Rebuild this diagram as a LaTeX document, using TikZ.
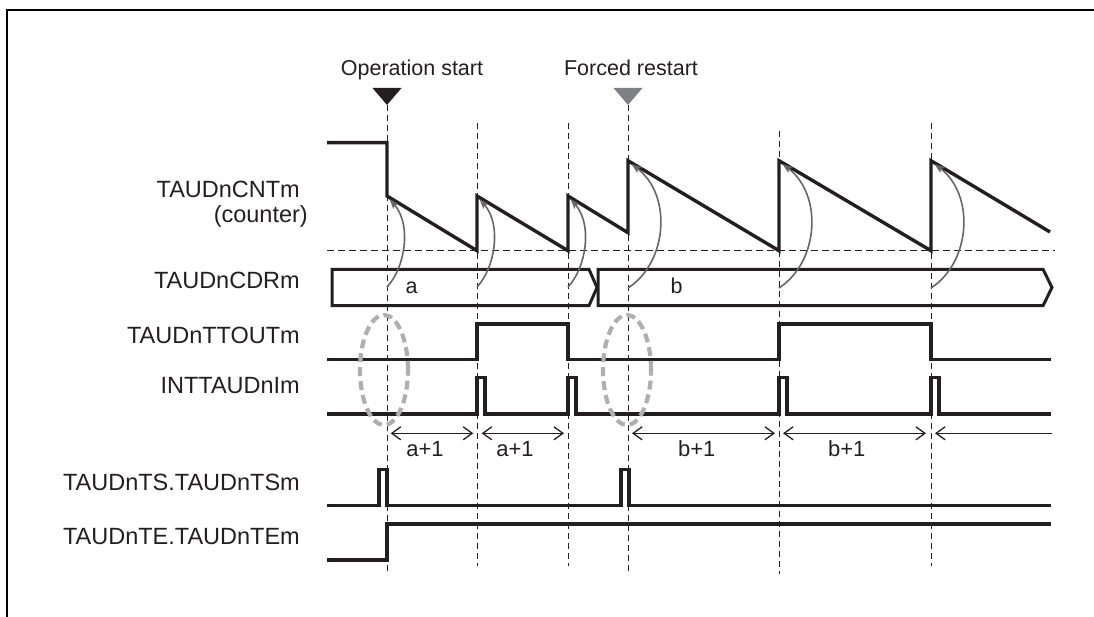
\documentclass[tikz,border=0pt]{standalone}
\usepackage{fontspec}
\setmainfont{Liberation Sans}
\usetikzlibrary{arrows.meta}
\definecolor{ink}{HTML}{231F20}
\definecolor{curvegray}{HTML}{666769}
\definecolor{trigray}{HTML}{7F8083}
\definecolor{ellgray}{HTML}{ADAFB1}
\begin{document}
\begin{tikzpicture}[x=1pt,y=-1pt,
  sig/.style={draw=ink, line width=3.4pt},
  vguide/.style={draw=ink, line width=1pt, dash pattern=on 6pt off 4pt},
  hguide/.style={draw=ink, line width=1.2pt, dash pattern=on 7pt off 4pt},
  lbl/.style={font=\fontsize{23.5}{26}\selectfont, text=ink, anchor=base east, inner sep=0pt},
  txt/.style={font=\fontsize{21.5}{24}\selectfont, text=ink, anchor=base, inner sep=0pt},
  reload/.style={draw=curvegray, line width=1.6pt, -{Stealth[length=10pt,width=7pt,inset=2pt]}},
  dimboth/.style={draw=ink, line width=1.3pt, {Straight Barb[length=9pt,width=13pt]}-{Straight Barb[length=9pt,width=13pt]}},
  dimleft/.style={draw=ink, line width=1.3pt, {Straight Barb[length=9pt,width=13pt]}-},
  flagring/.style={draw=ellgray, line width=4.2pt, dash pattern=on 9pt off 5pt},
  frameline/.style={draw=black, line width=2pt}]
\useasboundingbox (0,0) rectangle (1094,617);

% frame
\draw[frameline] (1094,10) -- (7,10) -- (7,617);

% vertical guides
\draw[vguide] (387,105) -- (387,575);
\draw[vguide] (477,123) -- (477,566);
\draw[vguide] (568,123) -- (568,566);
\draw[vguide] (628,105) -- (628,575);
\draw[vguide] (779,131) -- (779,574);
\draw[vguide] (931,123) -- (931,566);

% horizontal baseline
\draw[hguide] (327,250.7) -- (1055,250.7);

% triggers
\fill[ink] (372.5,88) -- (401.5,88) -- (387,105) -- cycle;
\fill[trigray] (613.5,88) -- (642.5,88) -- (628,105) -- cycle;
\node[txt] (opstart) at (412,76) {Operation start};
\node[txt] (restart) at (631,76) {Forced restart};

% signal labels
\node[lbl] (lcnt) at (300,198) {TAUDnCNTm};
\node[lbl] (lcnt2) at (308,222.5) {(counter)};
\node[lbl] (lcdr) at (300,289) {TAUDnCDRm};
\node[lbl] (lttout) at (300,343) {TAUDnTTOUTm};
\node[lbl] (lint) at (300,393) {INTTAUDnIm};
\node[lbl] (lts) at (300,490.5) {TAUDnTS.TAUDnTSm};
\node[lbl] (lte) at (300,544.5) {TAUDnTE.TAUDnTEm};

% counter
\draw[sig] (327,142.7) -- (387,142.7) -- (387,196) -- (477,250.7) -- (477,196)
  -- (568,250.7) -- (568,196) -- (628,232.7) -- (628,160.7) -- (779,250.7)
  -- (779,160.7) -- (931,250.7) -- (931,160.7) -- (1050,232);

% CDR register
\draw[sig, line width=3pt] (332,269.3) -- (589,269.3) -- (597,287.5) -- (589,305.7) -- (332,305.7) -- cycle;
\draw[sig, line width=3pt] (598,269.3) -- (1043,269.3) -- (1052,287.5) -- (1043,305.7) -- (598,305.7) -- cycle;
\node[txt] (va) at (411.7,293.3) {a};
\node[txt] (vb) at (676.7,293.3) {b};

% TTOUT
\draw[sig] (327,359.3) -- (477,359.3) -- (477,324) -- (568,324) -- (568,359.3)
  -- (779,359.3) -- (779,324) -- (931,324) -- (931,359.3) -- (1051,359.3);

% INT
\draw[sig] (327,414) -- (477,414) -- (477,377.7) -- (485,377.7) -- (485,414)
  -- (568,414) -- (568,377.7) -- (576,377.7) -- (576,414)
  -- (779,414) -- (779,377.7) -- (787,377.7) -- (787,414)
  -- (931,414) -- (931,377.7) -- (939,377.7) -- (939,414) -- (1051,414);

% TS
\draw[sig] (327,505.7) -- (379,505.7) -- (379,469.3) -- (387,469.3) -- (387,505.7)
  -- (621,505.7) -- (621,469.3) -- (629,469.3) -- (629,505.7) -- (1051,505.7);

% TE
\draw[sig] (327,560) -- (387,560) -- (387,524) -- (1051,524);

% dashed rings
\draw[flagring] (384,370) ellipse [x radius=24pt, y radius=55pt];
\draw[flagring] (627,370) ellipse [x radius=24pt, y radius=55pt];

% reload arrows
\draw[reload] (387,287) .. controls (405,268) and (412,225) .. (389.5,199);
\draw[reload] (477,287) .. controls (495,268) and (502,225) .. (479.5,199);
\draw[reload] (568,287) .. controls (586,268) and (593,225) .. (570.5,199);
\draw[reload] (628,288) .. controls (668,262) and (672,195) .. (631.5,164);
\draw[reload] (779,288) .. controls (819,262) and (823,195) .. (782.5,164);
\draw[reload] (931,288) .. controls (971,262) and (975,195) .. (934.5,164);

% periods
\draw[dimboth] (390.7,433.3) -- (473.3,433.3);
\draw[dimboth] (481.7,433.3) -- (564,433.3);
\draw[dimboth] (632,433.3) -- (775,433.3);
\draw[dimboth] (783,433.3) -- (926,433.3);
\draw[dimleft] (935,433.3) -- (1052,433.3);
\node[txt, font=\fontsize{22}{24}\selectfont] (pa1) at (425,456.7) {a+1};
\node[txt, font=\fontsize{22}{24}\selectfont] (pa2) at (515,456.7) {a+1};
\node[txt, font=\fontsize{22}{24}\selectfont] (pb1) at (696.7,456.7) {b+1};
\node[txt, font=\fontsize{22}{24}\selectfont] (pb2) at (846.7,456.7) {b+1};
\end{tikzpicture}
\end{document}
